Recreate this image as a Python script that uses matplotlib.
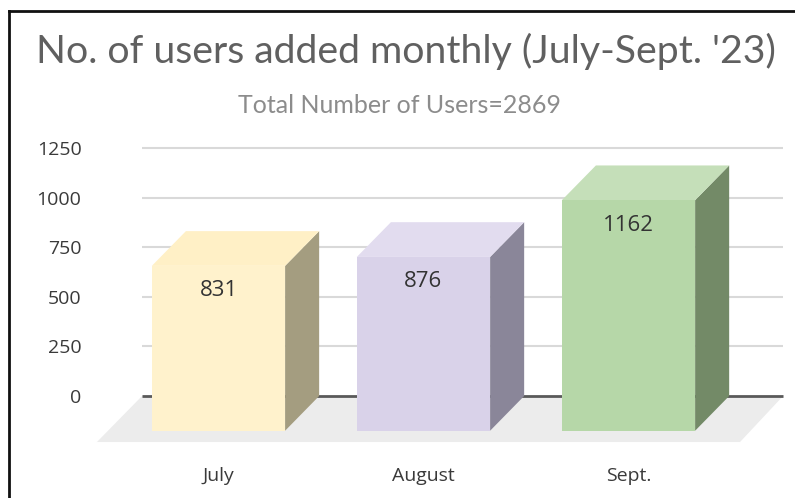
import matplotlib.pyplot as plt
from matplotlib.patches import Polygon, Rectangle
from matplotlib.lines import Line2D

# monthly user counts
months = ['July', 'August', 'Sept.']
users = [831, 876, 1162]
yticks = [0, 250, 500, 750, 1000, 1250]

front_colors = ['#fff2cc', '#d9d2e9', '#b6d7a8']
side_colors = ['#a49d80', '#8a8699', '#738a67']
top_colors = ['#fff0c6', '#e2dcef', '#c5dfb9']

# fake 3d depth (x in category units, y in value units)
w = 0.65
dx, dy = 0.166, 175
grid_left, grid_right = -0.539, 2.588

fig = plt.figure(figsize=(7.95, 4.98), dpi=100)
ax = fig.add_axes([0.1165, 0.1092, 0.8716, 0.5976])
ax.set_xlim(-0.78, 2.6)
ax.set_ylim(-240, 1260)

# floor
ax.add_patch(Polygon([(grid_left, 0), (grid_right, 0),
                      (grid_right - 0.21, -232), (grid_left - 0.22, -232)],
                     closed=True, facecolor='#ececec', edgecolor='none', zorder=1))

# gridlines and zero line
ax.hlines(yticks[1:], grid_left, grid_right, color='#d9d9d9', lw=1.5, zorder=0)
ax.hlines(0, grid_left, grid_right, color='#595959', lw=2, zorder=2)

for i, v in enumerate(users):
    l, r = i - w / 2, i + w / 2
    # side face
    ax.add_patch(Polygon([(r - dx, -dy), (r, 0), (r, v), (r - dx, v - dy)],
                         closed=True, facecolor=side_colors[i], edgecolor='none', zorder=3))
    # top face
    ax.add_patch(Polygon([(l - dx, v - dy), (l, v), (r, v), (r - dx, v - dy)],
                         closed=True, facecolor=top_colors[i], edgecolor='none', zorder=3))
    # front face
    ax.add_patch(Rectangle((l - dx, -dy), w, v, facecolor=front_colors[i],
                           edgecolor='none', zorder=4))
    ax.annotate(str(v), (i - dx, v - dy), xytext=(0, -18), textcoords='offset points',
                ha='center', va='center', fontsize=16, color='#333333',
                family='Open Sans', zorder=5)

ax.set_yticks(yticks)
ax.set_yticklabels([str(t) for t in yticks], family='Open Sans', fontsize=14, color='#3a3a3a')
ax.set_xticks([i - dx for i in range(len(months))])
ax.set_xticklabels(months, family='Open Sans', fontsize=14, color='#3a3a3a')
ax.tick_params(axis='both', length=0)
ax.tick_params(axis='y', pad=8)
ax.tick_params(axis='x', pad=17)
for s in ax.spines.values():
    s.set_visible(False)

fig.text(0.511, 0.896, "No. of users added monthly (July-Sept. '23)",
         ha='center', va='center', fontsize=28.3, color='#606060', family='Lato')
fig.text(0.503, 0.789, f"Total Number of Users={sum(users)}",
         ha='center', va='center', fontsize=18, color='#8c8c8c', family='Lato')

# outer frame
fig.add_artist(Line2D([0.011, 1.0], [0.978, 0.978], color='#111111', lw=2))
fig.add_artist(Line2D([0.011, 0.011], [0.0, 0.978], color='#111111', lw=2))

fig.savefig('out.png', dpi=100)
